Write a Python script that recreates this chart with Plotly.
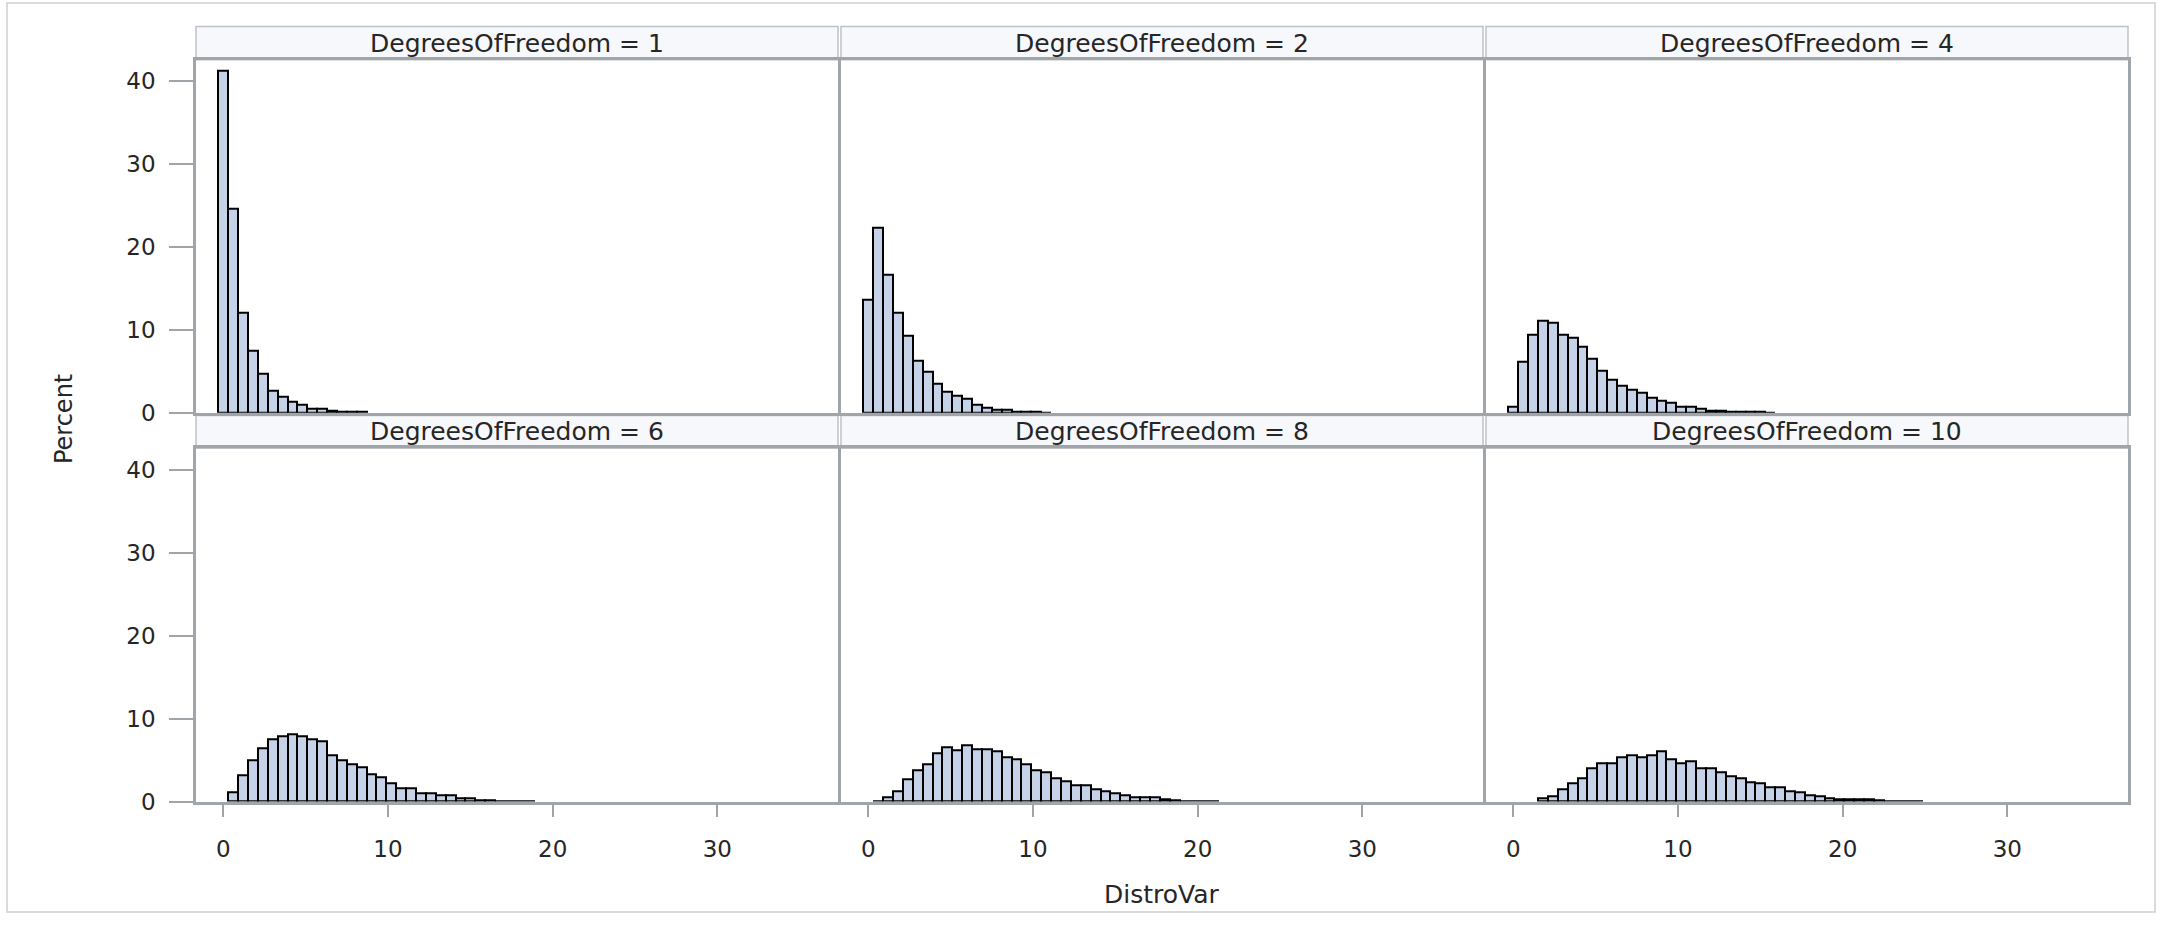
import plotly.graph_objects as go

# ---------------- data (percent per bin, bin width 0.6, bins centred at 0.6*k) ----------------
BIN_WIDTH = 0.6
panel_labels = ["DegreesOfFreedom = 1", "DegreesOfFreedom = 2", "DegreesOfFreedom = 4",
                "DegreesOfFreedom = 6", "DegreesOfFreedom = 8", "DegreesOfFreedom = 10"]

# index of the first bin of each series (bin k is centred at k*BIN_WIDTH)
first_bin = [0, 0, 0, 1, 1, 3]

pct_df1 = [41.3, 24.6, 12.0, 7.46, 4.64, 2.66, 1.90, 1.27, 0.99, 0.51, 0.51, 0.27,
           0.12, 0.08, 0.05]
pct_df2 = [13.6, 22.35, 16.6, 12.07, 9.29, 6.31, 4.88, 3.53, 2.57, 1.98, 1.70, 0.99,
           0.60, 0.31, 0.31, 0.12, 0.08, 0.06, 0.04]
pct_df4 = [0.75, 6.2, 9.45, 11.05, 10.8, 9.45, 9.0, 7.9, 6.5, 5.05, 3.95, 3.25,
           2.82, 2.35, 1.82, 1.43, 1.22, 0.72, 0.72, 0.48, 0.25, 0.18, 0.14, 0.10,
           0.07, 0.05, 0.04]
pct_df6 = [1.18, 3.15, 5.0, 6.39, 7.49, 7.88, 8.16, 7.88, 7.49, 7.29, 5.64, 5.0,
           4.50, 4.10, 3.35, 2.94, 2.17, 1.58, 1.58, 1.07, 1.07, 0.79, 0.79, 0.39,
           0.39, 0.15, 0.12, 0.10, 0.07, 0.05, 0.04]
pct_df8 = [0.05, 0.59, 1.30, 2.69, 3.79, 4.46, 5.85, 6.51, 6.24, 6.75, 6.36, 6.36,
           6.12, 5.37, 5.14, 4.46, 3.79, 3.55, 2.89, 2.41, 1.98, 1.98, 1.50, 1.27,
           1.03, 0.79, 0.59, 0.59, 0.59, 0.32, 0.15, 0.10, 0.08, 0.06, 0.04]
pct_df10 = [0.39, 0.63, 1.50, 2.21, 2.89, 3.99, 4.66, 4.66, 5.37, 5.61, 5.37, 5.61,
            6.04, 5.14, 4.66, 4.85, 3.99, 3.99, 3.55, 3.08, 2.89, 2.37, 2.21, 1.70,
            1.70, 1.30, 1.18, 0.83, 0.63, 0.40, 0.32, 0.32, 0.32, 0.24, 0.12, 0.10,
            0.08, 0.05, 0.04]
series = [pct_df1, pct_df2, pct_df4, pct_df6, pct_df8, pct_df10]

x_ticks = [0, 10, 20, 30]
y_ticks = [0, 10, 20, 30, 40]
x_title = "DistroVar"
y_title = "Percent"

# ---------------- layout geometry (pixels) ----------------
W, H = 2159, 928
PANEL_LEFT, PANEL_W, PANEL_GAP = 196, 642, 3
ROW_PLOT = [(60.6, 418.5), (454.5, 813.0)]     # (top, bottom) of plot areas
ROW_STRIP = [(27.0, 60.6), (421.5, 454.5)]     # (top, bottom) of header strips
X_RANGE = [-1.66, 37.33]
Y_RANGE = [0, 42.6]

FONT = "DejaVu Sans, Liberation Sans, Arial, sans-serif"
AXIS_GRAY = "#A0A5AA"
TEXT_COLOR = "#262626"


def px_x(x):
    return x / W


def px_y(y):
    return 1 - y / H


fig = go.Figure()
layout = dict(
    width=W, height=H,
    margin=dict(l=0, r=0, t=0, b=0),
    paper_bgcolor="white", plot_bgcolor="white",
    showlegend=False, bargap=0,
    font=dict(family=FONT, color=TEXT_COLOR),
)
shapes = []
annotations = []

for i, vals in enumerate(series):
    r, c = divmod(i, 3)
    ax = "" if i == 0 else str(i + 1)
    left = PANEL_LEFT + c * (PANEL_W + PANEL_GAP)
    right = left + PANEL_W
    top, bottom = ROW_PLOT[r]

    centers = [BIN_WIDTH * (first_bin[i] + j) for j in range(len(vals))]
    fig.add_trace(go.Bar(
        x=centers, y=vals, width=BIN_WIDTH,
        marker=dict(color="#C6D2E8", line=dict(color="black", width=2)),
        xaxis="x" + ax, yaxis="y" + ax, hoverinfo="x+y",
    ))

    layout["xaxis" + ax] = dict(
        domain=[px_x(left), px_x(right)], anchor="y" + ax, range=X_RANGE,
        showgrid=False, zeroline=False, showline=True, mirror=True,
        linecolor=AXIS_GRAY, linewidth=2.5,
        tickvals=x_ticks, ticks="outside" if r == 1 else "",
        ticklen=13, tickwidth=2, tickcolor=AXIS_GRAY,
        showticklabels=(r == 1), ticklabelstandoff=12,
        tickfont=dict(size=23, family=FONT, color=TEXT_COLOR),
    )
    layout["yaxis" + ax] = dict(
        domain=[px_y(bottom), px_y(top)], anchor="x" + ax, range=Y_RANGE,
        showgrid=False, zeroline=False, showline=True, mirror=True,
        linecolor=AXIS_GRAY, linewidth=2.5,
        tickvals=y_ticks, ticks="outside" if c == 0 else "",
        ticklen=24, tickwidth=2, tickcolor=AXIS_GRAY,
        showticklabels=(c == 0), ticklabelstandoff=9,
        tickfont=dict(size=23, family=FONT, color=TEXT_COLOR),
    )

    s_top, s_bottom = ROW_STRIP[r]
    shapes.append(dict(
        type="rect", xref="paper", yref="paper",
        x0=px_x(left), x1=px_x(right), y0=px_y(s_bottom), y1=px_y(s_top),
        fillcolor="#F7F8FB", line=dict(color="#BEC2C6", width=1.5), layer="below",
    ))
    annotations.append(dict(
        text=panel_labels[i], xref="paper", yref="paper",
        x=px_x((left + right) / 2), y=px_y((s_top + s_bottom) / 2),
        xanchor="center", yanchor="middle", showarrow=False,
        font=dict(size=25, family=FONT, color=TEXT_COLOR),
    ))

# outer frame
shapes.append(dict(type="rect", xref="paper", yref="paper",
                   x0=px_x(7), x1=px_x(2155), y0=px_y(925), y1=px_y(3),
                   line=dict(color="#CFCFCF", width=1.5), layer="below"))

# axis titles
annotations.append(dict(text=x_title, xref="paper", yref="paper",
                        x=px_x(1162), y=px_y(893), xanchor="center", yanchor="middle",
                        yshift=-14, showarrow=False,
                        font=dict(size=25, family=FONT, color=TEXT_COLOR)))
annotations.append(dict(text=y_title, xref="paper", yref="paper",
                        x=px_x(64), y=px_y(425), xanchor="center", yanchor="middle",
                        textangle=-90, showarrow=False,
                        font=dict(size=24, family=FONT, color=TEXT_COLOR)))

layout["shapes"] = shapes
layout["annotations"] = annotations
fig.update_layout(**layout)

fig.write_html("out.html")
